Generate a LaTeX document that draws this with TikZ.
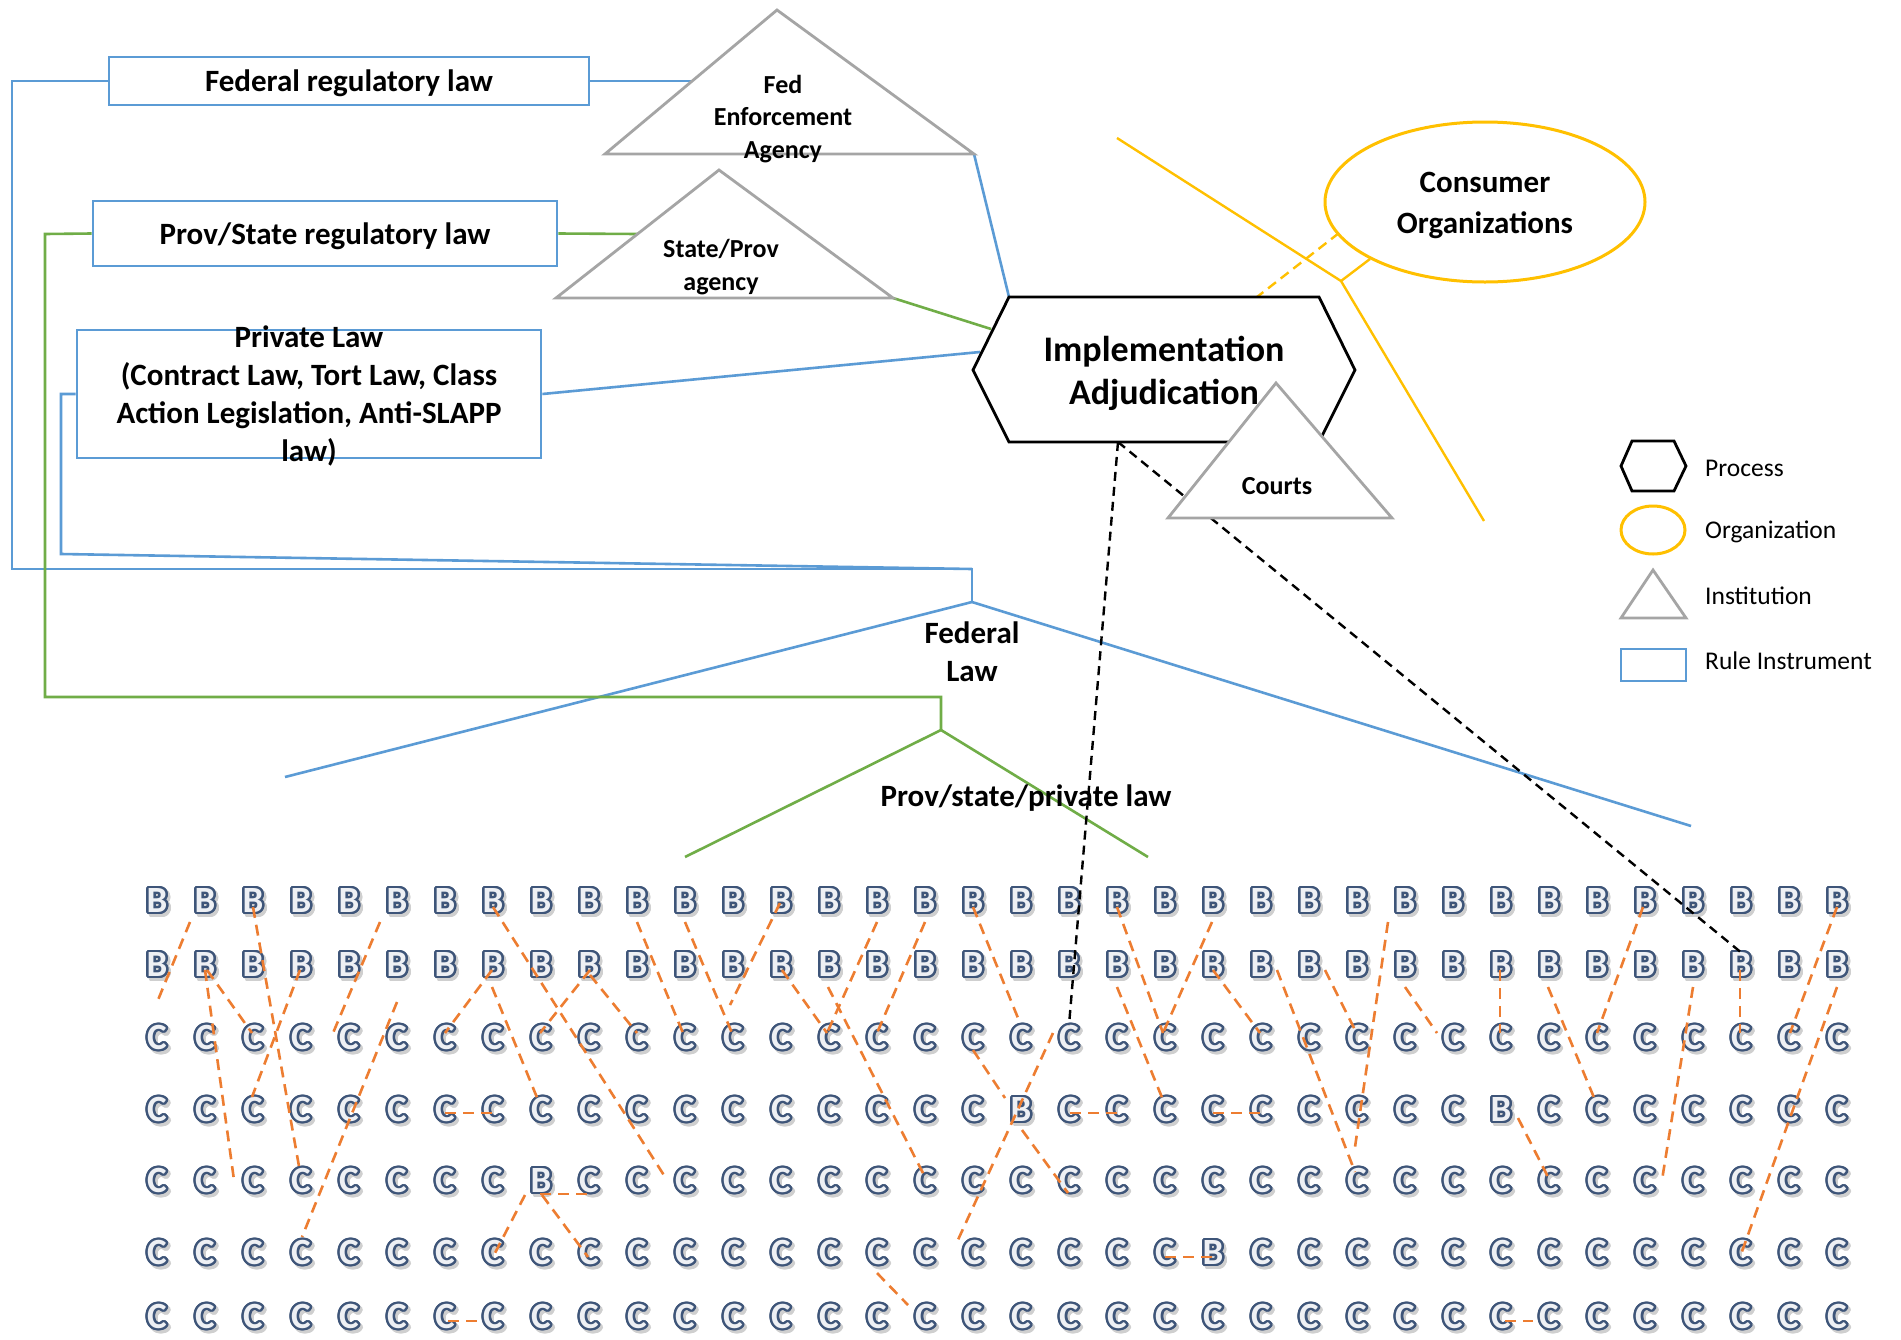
\documentclass[tikz,border=0pt]{standalone}
\usepackage{fontspec}
\setmainfont{Carlito}
\usepackage{contour}
\contourlength{2.4pt}
\contournumber{20}
\usetikzlibrary{calc,shapes.geometric}

\definecolor{ruleblue}{HTML}{5B9BD5}
\definecolor{provgreen}{HTML}{70AD47}
\definecolor{instgray}{HTML}{A5A5A5}
\definecolor{orggold}{HTML}{FFC000}
\definecolor{linkorange}{HTML}{ED7D31}
\definecolor{glyphedge}{HTML}{3E5579}
\definecolor{glyphfill}{HTML}{EEF0F4}
\definecolor{glyphshade}{HTML}{CFCFCF}

% outlined letter with a soft drop shadow
\newcommand\gridglyph[1]{%
  \rlap{\kern2.5pt\raisebox{-2.5pt}{\contour{glyphshade}{\textcolor{glyphshade}{#1}}}}%
  \contour{glyphedge}{\textcolor{glyphfill}{#1}}}

\tikzset{
  bluelink/.style={draw=ruleblue, line width=2.6pt},
  greenlink/.style={draw=provgreen, line width=2.6pt},
  rulebox/.style={draw=ruleblue, line width=2.8pt, inner sep=0pt},
  insttri/.style={draw=instgray, line width=2.8pt, fill=white, line join=miter},
  procline/.style={draw=black, line width=2.8pt, line join=miter},
  orgline/.style={draw=orggold, line width=2.4pt},
  linkdash/.style={draw=linkorange, line width=2.6pt, dash pattern=on 11pt off 7pt},
  courtdash/.style={draw=black, line width=2.4pt, dash pattern=on 9pt off 6pt},
  lbl/.style={inner sep=0pt, align=center, font=\fontsize{31}{38}\bfseries\selectfont},
  smalllbl/.style={inner sep=0pt, align=center, font=\fontsize{26}{32.5}\bfseries\selectfont},
  biglbl/.style={inner sep=0pt, align=center, font=\fontsize{36}{43}\bfseries\selectfont},
  legendtxt/.style={inner sep=0pt, anchor=west, font=\fontsize{25.5}{30}\selectfont},
  glyph/.style={inner sep=0pt, font=\fontsize{37}{37}\bfseries\selectfont},
}

\begin{document}
\begin{tikzpicture}[x=1pt,y=-1pt]
\fill[white] (0,0) rectangle (1901,1339);
\useasboundingbox (0,0) rectangle (1901,1339);

% ---------- key points ----------
\coordinate (fedjoin) at (972,569);
\coordinate (fedapex) at (972,602);
\coordinate (fedleft) at (285,777);
\coordinate (fedright) at (1691,826);
\coordinate (provjoin) at (941,697);
\coordinate (provapex) at (941,730);
\coordinate (provleft) at (685,857);
\coordinate (provright) at (1148,857);

\coordinate (fedtop) at (777,10);
\coordinate (fedbl) at (605,154);
\coordinate (fedbr) at (974,154);
\coordinate (fedin) at (692,81);

\coordinate (sttop) at (719,170);
\coordinate (stbl) at (556,298);
\coordinate (stbr) at (893,298);
\coordinate (stin) at (638,234);

\coordinate (hex-tl) at (1009,297);
\coordinate (hex-tr) at (1319,297);
\coordinate (hex-r) at (1355,370);
\coordinate (hex-br) at (1319,442);
\coordinate (hex-bl) at (1009,442);
\coordinate (hex-l) at (973,370);
\coordinate (hexgreen) at (991,329);
\coordinate (hexblue) at (980,352);
\coordinate (hexfoot) at (1118,442);
\coordinate (hexgold) at (1257,297);

\coordinate (crtop) at (1276,383);
\coordinate (crbl) at (1168,518);
\coordinate (crbr) at (1392,518);

\coordinate (orgtail) at (1117,138);
\coordinate (orgbend) at (1341,281);
\coordinate (orgend) at (1484,521);

% ---------- rule instrument boxes ----------
\node[rulebox, minimum width=480, minimum height=48] (fedreg) at (349,81) {};
\node[rulebox, minimum width=464, minimum height=65] (provreg) at (325,233.5) {};
\node[rulebox, minimum width=464, minimum height=128] (private) at (309,394) {};

% ---------- federal (blue) links ----------
\draw[bluelink] (fedreg.west) -- (12,81) -- (12,569) -- (fedjoin) -- (fedapex);
\draw[bluelink] (private.west) -- (61,394) -- (61,554) -- (fedjoin);
\draw[bluelink] (fedapex) -- (fedleft);
\draw[bluelink] (fedapex) -- (fedright);
\draw[bluelink] (fedreg.east) -- (fedin);
\draw[bluelink] (fedbr) -- (hex-tl);
\draw[bluelink] (private.east) -- (hexblue);

% ---------- provincial (green) links ----------
\draw[greenlink] (provreg.west) -- (45,234) -- (45,697) -- (provjoin) -- (provapex);
\draw[greenlink] (provapex) -- (provleft);
\draw[greenlink] (provapex) -- (provright);
\draw[greenlink] (provreg.east) -- (stin);
\draw[greenlink] (stbr) -- (hexgreen);

% ---------- consumer organizations ----------
\node[orgline, line width=3pt, ellipse, minimum width=320, minimum height=160, inner sep=0pt] (org) at (1485,202) {};
\draw[orgline] (orgtail) -- (orgbend) -- (orgend);
\draw[orgline] (orgbend) -- (1370,259);
\draw[orgline, dash pattern=on 10pt off 6pt] (1339,233) -- (hexgold);

% ---------- agencies ----------
\draw[insttri] (fedtop) -- (fedbr) -- (fedbl) -- cycle;
\draw[insttri] (sttop) -- (stbr) -- (stbl) -- cycle;

% ---------- letter grid ----------
\foreach \r/\ry in {1/903,2/967,3/1040,4/1112,5/1183,6/1255,7/1319}{
  \foreach \c in {0,...,35}{
    \pgfmathtruncatemacro\isb{(\r<3)||(\r==4&&(\c==18||\c==28))||(\r==5&&\c==8)||(\r==6&&\c==22)}
    \ifnum\isb=1 \def\gl{B}\else\def\gl{C}\fi
    \node[glyph] (g-\r-\c) at ({157+48*\c},\ry) {\gridglyph{\gl}};
  }
}

% ---------- ties between letters ----------
\foreach \xa/\ya/\xb/\yb in {
  190/922/158/1000, 253/907/300/1172, 205/970/234/1180, 207/970/252/1033,
  300/970/252/1097, 380/922/333/1033, 397/1002/302/1237, 493/907/667/1180,
  492/970/445/1033, 492/987/538/1100, 590/970/540/1033, 590/975/637/1033,
  445/1113/492/1113, 637/922/683/1033, 685/922/732/1033, 780/903/730/1005,
  782/970/827/1033, 877/922/827/1033, 828/987/925/1177, 925/922/877/1033,
  973/907/1020/1023, 973/1050/1005/1098, 1053/1033/957/1242, 877/1273/908/1305,
  540/1194/588/1194, 525/1195/495/1253, 542/1195/588/1257,
  1117/907/1163/1033, 1212/922/1163/1033, 1117/987/1163/1100, 1213/970/1260/1033,
  1277/970/1355/1172, 1325/970/1355/1030, 1388/922/1355/1147, 1405/987/1437/1033,
  1070/1113/1117/1113, 1213/1113/1260/1113, 1022/1130/1068/1193, 1165/1257/1212/1257,
  1643/907/1597/1033, 1500/970/1500/1033, 1548/987/1595/1100, 1693/987/1662/1180,
  1740/970/1740/1033, 1837/907/1790/1033, 1837/987/1740/1257, 1518/1118/1548/1177,
  1505/1321/1533/1321, 448/1321/477/1321}
  \draw[linkdash] (\xa,\ya) -- (\xb,\yb);

% ---------- adjudication reach ----------
\draw[courtdash] (hexfoot) -- (g-3-19.north);
\draw[courtdash] (hexfoot) -- (g-2-33.north);

% ---------- process and courts ----------
\draw[procline, fill=white] (hex-tl) -- (hex-tr) -- (hex-r) -- (hex-br) -- (hex-bl) -- (hex-l) -- cycle;
\draw[insttri] (crtop) -- (crbr) -- (crbl) -- cycle;

% ---------- labels ----------
\node[lbl] at (349,83) {Federal regulatory law};
\node[lbl] at (325,236) {Prov/State regulatory law};
\node[lbl] at (309,396) {Private Law\\(Contract Law, Tort Law, Class\\Action Legislation, Anti-SLAPP\\law)};
\node[smalllbl] at (783,119) {Fed\\Enforcement\\Agency};
\node[smalllbl] at (721,267) {State/Prov\\agency};
\node[biglbl] at (1164,373) {Implementation\\Adjudication};
\node[smalllbl] at (1277,486) {Courts};
\node[lbl, align=center, font=\fontsize{31}{41}\bfseries\selectfont] at (1485,205) {Consumer\\Organizations};
\node[lbl] at (972,652) {Federal\\Law};
\node[lbl] at (1026,798) {Prov/state/private law};

% ---------- legend ----------
\draw[procline] (1632,441) -- (1674,441) -- (1686,466) -- (1674,491) -- (1632,491) -- (1621,466) -- cycle;
\draw[orgline, line width=3pt] (1653,530) ellipse [x radius=32pt, y radius=24pt];
\draw[insttri] (1653,570) -- (1686,618) -- (1621,618) -- cycle;
\draw[rulebox] (1621,649) rectangle (1686,681);
\node[legendtxt] at (1705,468) {Process};
\node[legendtxt] at (1705,532) {Organization};
\node[legendtxt] at (1705,596) {Institution};
\node[legendtxt] at (1705,661) {Rule Instrument};
\end{tikzpicture}
\end{document}
